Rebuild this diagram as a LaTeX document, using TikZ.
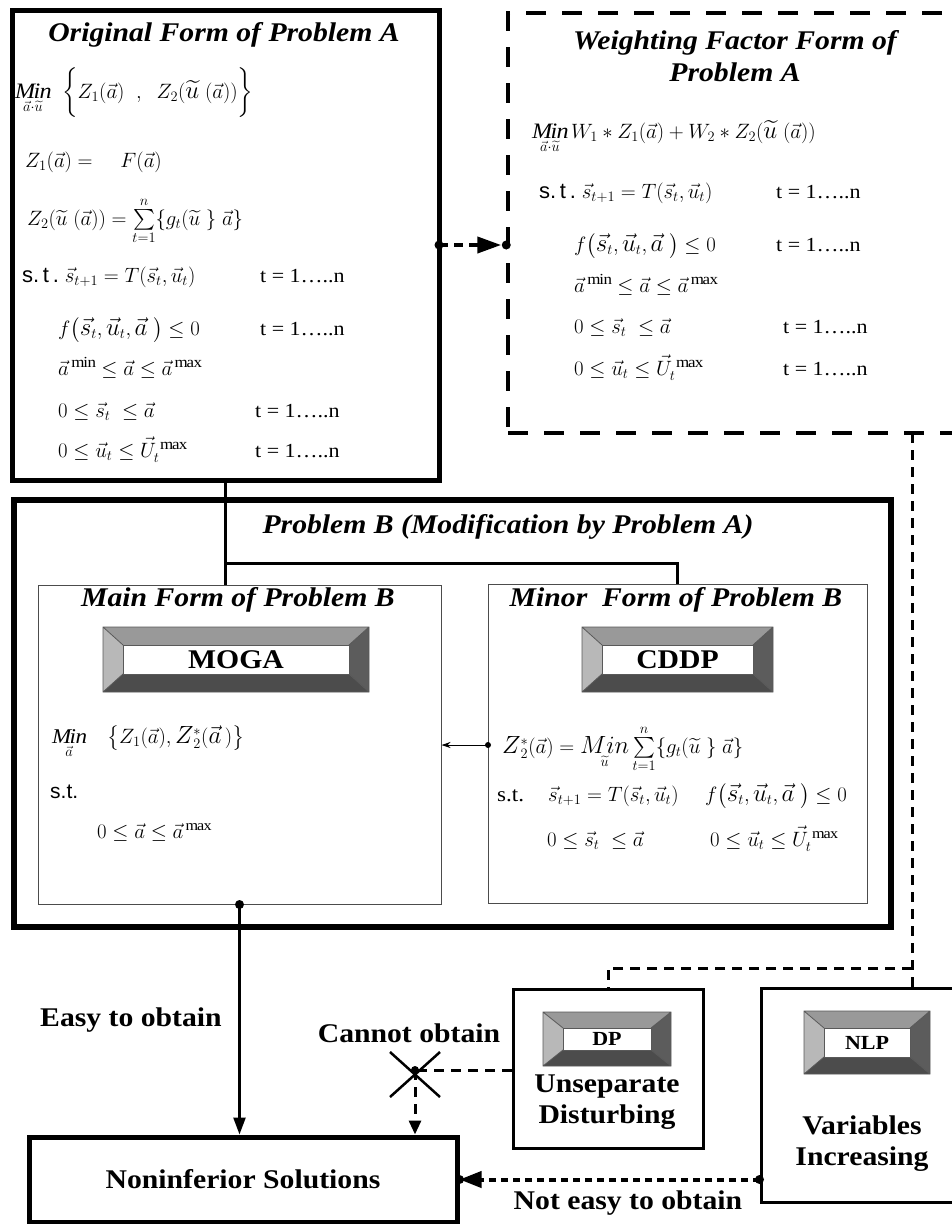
\documentclass[tikz,border=0pt]{standalone}
\usepackage{amsmath}
\usepackage{fontspec}
\setmainfont[FakeStretch=1.1]{Liberation Serif}
\setsansfont{Liberation Sans}
\usetikzlibrary{arrows.meta}

\definecolor{btnleft}{gray}{0.72}
\definecolor{btntop}{gray}{0.60}
\definecolor{btnright}{gray}{0.36}
\definecolor{btnbot}{gray}{0.30}
\definecolor{btnline}{gray}{0.35}

\newcommand{\bv}[1]{\text{\fontsize{29}{32}\selectfont$\vec{#1}$}}
\newcommand{\bu}{\text{\fontsize{31}{32}\selectfont$\widetilde{u}$}}
\newcommand{\bz}{\text{\fontsize{31}{32}\selectfont$Z$}}
\newcommand{\trange}{t = 1\ldots..n}
\newcommand{\stlbl}{{\sffamily s.\,t\,.}}
% bevelled button: name, x1, y1, x2, y2, inset, label
\newcommand{\bevelbtn}[7]{%
  \fill[btntop] (#2,#3) -- (#4,#3) -- (#4-20,#3+#6) -- (#2+20,#3+#6) -- cycle;
  \fill[btnleft] (#2,#3) -- (#2+20,#3+#6) -- (#2+20,#5-#6) -- (#2,#5) -- cycle;
  \fill[btnright] (#4,#3) -- (#4,#5) -- (#4-20,#5-#6) -- (#4-20,#3+#6) -- cycle;
  \fill[btnbot] (#2,#5) -- (#4,#5) -- (#4-20,#5-#6) -- (#2+20,#5-#6) -- cycle;
  \draw[btnline,line width=0.8pt] (#2,#3) rectangle (#4,#5)
    (#2,#3) -- (#2+20,#3+#6) (#4,#3) -- (#4-20,#3+#6)
    (#2,#5) -- (#2+20,#5-#6) (#4,#5) -- (#4-20,#5-#6);
  \node[draw=btnline,line width=0.8pt,fill=white,inner sep=0pt,
    minimum width={#4-#2-40},minimum height={#5-#3-2*#6}]
    (#1) at ({(#2+#4)/2},{(#3+#5)/2}) {#7};
}

\begin{document}
\begin{tikzpicture}[x=1pt,y=-1pt,
  ttl/.style={font=\fontsize{27}{32}\selectfont\bfseries\itshape,inner sep=0pt,align=center},
  eq/.style={anchor=base west,inner sep=0pt,font=\fontsize{22}{25}\selectfont},
  eqs/.style={eq,font=\fontsize{21}{24}\selectfont},
  tr/.style={anchor=base west,inner sep=0pt,font=\fontsize{20}{22}\selectfont},
  lbl/.style={font=\fontsize{27}{31}\selectfont\bfseries,inner sep=0pt,align=center},
  conn/.style={line width=3pt},
  dsh/.style={line width=3pt,dash pattern=on 10pt off 7pt}]

\useasboundingbox (0,0) rectangle (952,1224);
\clip (0,0) rectangle (952,1224);

% Original form of problem A
\node[draw,line width=5pt,minimum width=427pt,minimum height=470pt] (OA) at (225.5,245) {};
\node[ttl] (OAt) at (224,35) {Original Form of Problem A};
\node[eq] (A1) at (15,98) {$\underset{\vec a\cdot\widetilde u}{\mathit{Min}}\;\;\biggl\{Z_1(\vec a)\;\;,\;\;Z_2(\bu\;(\vec a))\biggr\}$};
\node[eq] (A2) at (25,167) {$Z_1(\vec a) = \quad F(\vec a)$};
\node[eq] (A3) at (27,225) {$Z_2(\widetilde u\;(\vec a)) = \sum\limits_{t=1}^{n}\{g_t(\widetilde u\;\}\;\vec a\}$};
\node[eq] (A4) at (22,282) {\stlbl\ $\vec s_{t+1} = T(\vec s_t,\vec u_t)$};
\node[tr] (A4t) at (260,282) {\trange};
\node[eq] (A5) at (58,335) {$f\big(\bv{s}_t,\bv{u}_t,\bv{a}\;\big)\le 0$};
\node[tr] (A5t) at (260,335) {\trange};
\node[eq] (A6) at (58,375) {$\vec a^{\,\mathrm{min}} \le \vec a \le \vec a^{\,\mathrm{max}}$};
\node[eq] (A7) at (58,417) {$0 \le \vec s_t \;\le \vec a$};
\node[tr] (A7t) at (255,417) {\trange};
\node[eq] (A8) at (58,457) {$0 \le \vec u_t \le \vec U_t^{\;\mathrm{max}}$};
\node[tr] (A8t) at (255,457) {\trange};

% Weighting factor form of problem A
\node[draw,line width=3.5pt,dash pattern=on 20pt off 16pt,minimum width=457pt,minimum height=420pt] (WA) at (736.5,223) {};
\node[ttl] (WAt) at (735,56) {Weighting Factor Form of\\Problem A};
\node[eq] (W1) at (532,138) {$\underset{\vec a\cdot\widetilde u}{\mathit{Min}}\,W_1 * Z_1(\vec a) + W_2 * Z_2(\bu\;(\vec a))$};
\node[eq] (W2) at (539,198) {\stlbl\ $\vec s_{t+1} = T(\vec s_t,\vec u_t)$};
\node[tr] (W2t) at (776,198) {\trange};
\node[eq] (W3) at (574,251) {$f\big(\bv{s}_t,\bv{u}_t,\bv{a}\;\big)\le 0$};
\node[tr] (W3t) at (776,251) {\trange};
\node[eq] (W4) at (574,292) {$\vec a^{\,\mathrm{min}} \le \vec a \le \vec a^{\,\mathrm{max}}$};
\node[eq] (W5) at (574,333) {$0 \le \vec s_t \;\le \vec a$};
\node[tr] (W5t) at (783,333) {\trange};
\node[eq] (W6) at (574,375) {$0 \le \vec u_t \le \vec U_t^{\;\mathrm{max}}$};
\node[tr] (W6t) at (783,375) {\trange};

% Problem B with its two forms
\node[draw,line width=6pt,minimum width=877pt,minimum height=427pt] (PB) at (452.5,713.5) {};
\node[ttl] (PBt) at (508,527) {Problem B (Modification by Problem A)};
\node[draw=black!70,line width=1pt,minimum width=403pt,minimum height=319pt] (MB) at (239.5,744.5) {};
\node[draw=black!70,line width=1pt,minimum width=379pt,minimum height=319pt] (NB) at (677.5,743.5) {};
\node[ttl] (MBt) at (238,600) {Main Form of Problem B};
\node[ttl] (NBt) at (676,600) {Minor\ \ Form of Problem B};
\bevelbtn{MOGA}{103}{627}{369}{692}{18}{\fontsize{27}{28}\selectfont\bfseries MOGA}
\bevelbtn{CDDP}{582}{627}{773}{692}{18}{\fontsize{27}{28}\selectfont\bfseries CDDP}
\node[eqs] (M1) at (52,743) {$\underset{\vec a}{\mathit{Min}}\quad\bigl\{Z_1(\vec a),\bz{}^{*}_{2}(\bv{a}\,)\bigr\}$};
\node[eqs] (M2) at (50,798) {\sffamily s.t.};
\node[eqs] (M3) at (97,838) {$0 \le \vec a \le \vec a^{\,\mathrm{max}}$};
\node[eqs] (N1) at (502,753) {$\bz{}^{*}_{2}(\vec a) = \underset{\widetilde u}{\text{\fontsize{31}{32}\selectfont$Min$}}\sum\limits_{t=1}^{n}\{g_t(\widetilde u\;\}\;\vec a\}$};
\node[eqs] (N2) at (497,801) {s.t.};
\node[eqs] (N2a) at (548,801) {$\vec s_{t+1} = T(\vec s_t,\vec u_t)$};
\node[eqs] (N2b) at (705,801) {$f\big(\bv{s}_t,\bv{u}_t,\bv{a}\;\big)\le 0$};
\node[eqs] (N3) at (547,846) {$0 \le \vec s_t \;\le \vec a$};
\node[eqs] (N3a) at (710,846) {$0 \le \vec u_t \le \vec U_t^{\;\mathrm{max}}$};

% links inside problem B
\coordinate (JN) at (225.5,563);
\draw[conn] (OA.south) -- (OA.south |- MB.north);
\draw[conn] (JN) -| (NB.north);
\coordinate (ZR) at (488,745);
\fill (ZR) circle (3);
\draw[line width=1pt,-{Stealth[length=9pt,width=6pt]}] (ZR) -- (MB.east |- ZR);

% weighting form reached from original form
\coordinate (AR) at (439,245);
\fill (AR) circle (4.5);
\fill (WA.west |- AR) circle (4.5);
\draw[line width=4pt,dash pattern=on 9pt off 6pt,-{Triangle[length=24pt,width=16pt]}] (AR) -- ([xshift=-5pt]WA.west |- AR);

% lower blocks
\node[draw,line width=5pt,minimum width=428pt,minimum height=85pt,font=\fontsize{27}{31}\selectfont\bfseries] (NS) at (243,1179.5) {Noninferior Solutions};
\node[draw,line width=3pt,minimum width=190pt,minimum height=159pt] (DP) at (608,1068.5) {};
\node[draw,line width=3pt,minimum width=214pt,minimum height=214pt] (NLP) at (868,1095) {};
\bevelbtn{DPb}{543}{1012}{671}{1066}{16}{\fontsize{20}{20}\selectfont\bfseries DP}
\bevelbtn{NLPb}{804}{1011}{930}{1074}{17}{\fontsize{20}{20}\selectfont\bfseries NLP}
\node[lbl] (DPt) at (607,1102) {Unseparate\\Disturbing};
\node[lbl] (NLPt) at (862,1144) {Variables\\Increasing};

% dashed feeds from the weighting form
\coordinate (DR) at (912,433);
\coordinate (BR) at (912,968);
\draw[dsh] (DR) -- ([yshift=-7pt]DR |- NLP.north);
\draw[dsh] (BR) -| (DP.north);

% routes to the noninferior solutions
\fill (MB.south) circle (4.5);
\draw[line width=2.5pt,-{Triangle[length=17pt,width=12pt]}] (MB.south) -- (MB.south |- NS.north);
\node[lbl] (EZ) at (131,1020) {Easy to obtain};

\coordinate (XC) at (415,1070);
\draw[line width=2.5pt] (390,1052) -- (440,1097) (440,1052) -- (390,1097);
\fill (XC) circle (4);
\draw[dsh] (DP.west |- XC) -- (XC);
\draw[dsh,-{Triangle[length=14pt,width=12pt]}] (XC) -- (XC |- NS.north);
\node[lbl] (CN) at (409,1033) {Cannot obtain};

\fill (NLP.west |- NS.east) circle (4.5);
\fill (NS.east) circle (4.5);
\draw[line width=4pt,dash pattern=on 7pt off 5pt,-{Triangle[length=22pt,width=16pt]}] (NLP.west |- NS.east) -- (NS.east);
\node[lbl] (NE) at (628,1203) {Not easy to obtain};
\end{tikzpicture}
\end{document}
